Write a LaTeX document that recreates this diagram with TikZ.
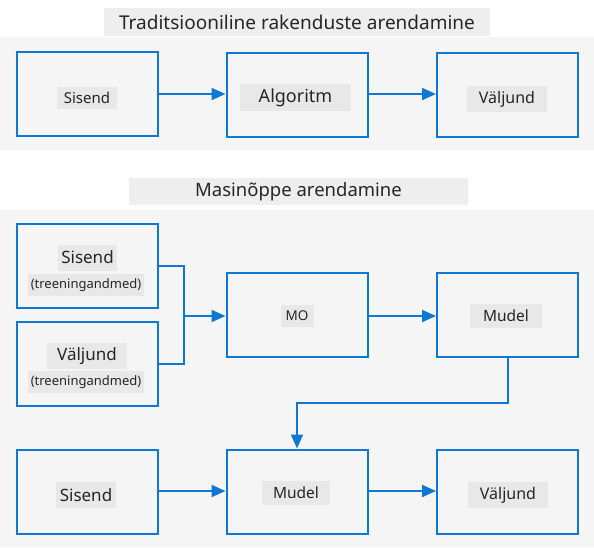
\documentclass[tikz,border=0pt]{standalone}
\usepackage{fontspec}
\setmainfont{Noto Sans}
\usetikzlibrary{arrows.meta}
\definecolor{panelbg}{HTML}{F5F5F5}
\definecolor{titlebg}{HTML}{EEEEEE}
\definecolor{labelbg}{HTML}{E8E8E8}
\definecolor{mblue}{HTML}{0F78D4}
\begin{document}
\begin{tikzpicture}[x=1pt,y=-1pt,
  panel/.style={fill=panelbg,draw=none},
  box/.style={draw=mblue,line width=2pt,fill=panelbg,minimum width=141pt,minimum height=84pt,inner sep=0pt},
  lbl/.style={fill=labelbg,inner sep=0pt,text=black!85},
  ttl/.style={fill=titlebg,inner sep=0pt,text=black!85},
  conn/.style={draw=mblue,line width=2pt,-{Triangle[length=14pt,width=12pt]}},
  plain/.style={draw=mblue,line width=2pt}
]
\useasboundingbox (0,0) rectangle (594,547);
\fill[white] (0,0) rectangle (594,547);
% panels
\path[panel] (0,37) rectangle (594,150);
\path[panel] (0,209) rectangle (594,547);
% titles
\node[ttl,minimum width=386pt,minimum height=28pt,font=\fontsize{19}{21}\selectfont] (t1) at (297,22) {Traditsiooniline rakenduste arendamine};
\node[ttl,minimum width=339pt,minimum height=27pt,font=\fontsize{18.5}{20}\selectfont] (t2) at (298.5,191.5) {Masinõppe arendamine};
% top row
\node[box] (a1) at (87,94) {};
\node[box] (a2) at (297,95) {};
\node[box] (a3) at (507.5,94.5) {};
\node[lbl,minimum width=60pt,minimum height=22pt,font=\fontsize{15}{17}\selectfont] (a1l) at (87,98) {Sisend};
\node[lbl,minimum width=111pt,minimum height=27pt,font=\fontsize{18}{20}\selectfont] (a2l) at (295.5,97.5) {Algoritm};
\node[lbl,minimum width=80pt,minimum height=26pt,font=\fontsize{16}{18}\selectfont] (a3l) at (507,99) {Väljund};
\draw[conn] (a1.east |- 0,94) -- (a2.west |- 0,94);
\draw[conn] (a2.east |- 0,94) -- (a3.west |- 0,94);
% ML section
\node[box] (b1) at (87,265.5) {};
\node[box] (b2) at (87,364) {};
\node[box] (m1) at (297,315) {};
\node[box] (m2) at (507.5,315) {};
\node[lbl,minimum width=59pt,minimum height=26pt,font=\fontsize{17}{19}\selectfont] (b1l) at (87.5,257.5) {Sisend};
\node[lbl,minimum width=116pt,minimum height=22pt,font=\fontsize{13}{15}\selectfont] (b1s) at (86,285) {(treeningandmed)};
\node[lbl,minimum width=80pt,minimum height=26pt,font=\fontsize{17}{19}\selectfont] (b2l) at (87,356) {Väljund};
\node[lbl,minimum width=116pt,minimum height=22pt,font=\fontsize{13}{15}\selectfont] (b2s) at (86,382) {(treeningandmed)};
\node[lbl,minimum width=33pt,minimum height=22pt,font=\fontsize{13.5}{15}\selectfont] (m1l) at (297,316) {MO};
\node[lbl,minimum width=72pt,minimum height=24pt,font=\fontsize{15.5}{17}\selectfont] (m2l) at (506,316) {Mudel};
\coordinate (j) at (184,316);
\draw[plain] (b1.east) -| (j);
\draw[plain] (b2.east) -| (j);
\draw[conn] (j) -- (m1.west |- j);
\draw[conn] (m1.east |- j) -- (m2.west |- j);
% bottom row
\node[box] (c1) at (87,491.5) {};
\node[box] (c2) at (297,491.5) {};
\node[box] (c3) at (507.5,491.5) {};
\node[lbl,minimum width=60pt,minimum height=26pt,font=\fontsize{17}{19}\selectfont] (c1l) at (86,495) {Sisend};
\node[lbl,minimum width=68pt,minimum height=24pt,font=\fontsize{15.5}{17}\selectfont] (c2l) at (296,493) {Mudel};
\node[lbl,minimum width=80pt,minimum height=26pt,font=\fontsize{16}{18}\selectfont] (c3l) at (508,495) {Väljund};
\draw[conn] (c1.east |- 0,491) -- (c2.west |- 0,491);
\draw[conn] (c2.east |- 0,491) -- (c3.west |- 0,491);
\coordinate (k1) at (508,403);
\coordinate (k2) at (297,403);
\draw[conn] (m2.south -| k1) -- (k1) -- (k2) -- (c2.north);
\end{tikzpicture}
\end{document}
